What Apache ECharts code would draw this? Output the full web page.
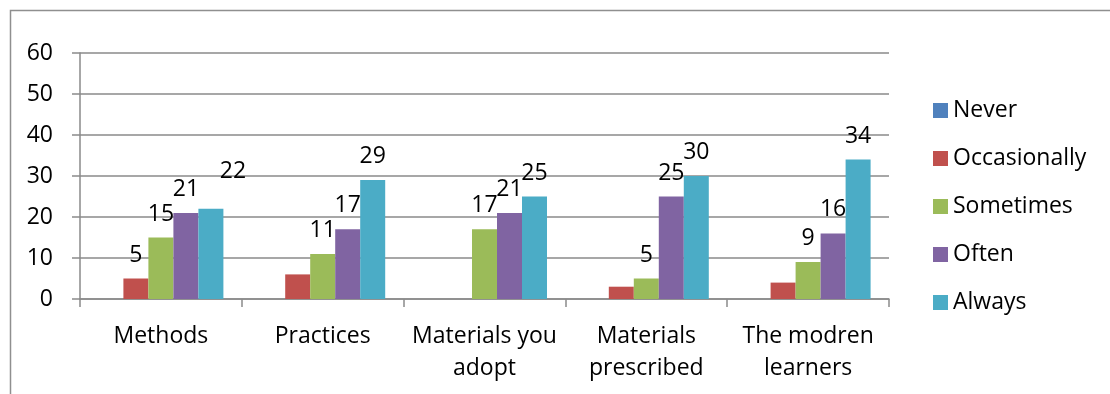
<!DOCTYPE html>
<html>
<head>
<meta charset="utf-8">
<script src="https://cdn.jsdelivr.net/npm/echarts@6/dist/echarts.min.js"></script>
<style>
  html, body { margin: 0; padding: 0; background: #fff; }
  #chart { width: 1110px; height: 394px; }
</style>
</head>
<body>
<div id="chart"></div>
<script>
// Survey responses per teaching aspect
const categories = ['Methods', 'Practices', 'Materials you\nadopt', 'Materials\nprescribed', 'The modren\nlearners'];
const seriesNames = ['Never', 'Occasionally', 'Sometimes', 'Often', 'Always'];
const never        = [0, 0, 0, 0, 0];
const occasionally = [5, 6, 0, 3, 4];
const sometimes    = [15, 11, 17, 5, 9];
const often        = [21, 17, 21, 25, 16];
const always       = [22, 29, 25, 30, 34];
// which values carry a printed label
const labelledNever        = [false, false, false, false, false];
const labelledOccasionally = [true, false, false, false, false];
const labelledSometimes    = [true, true, true, true, true];
const labelledOften        = [true, true, true, true, true];
const labelledAlways       = [true, true, true, true, true];
const yTicks = [0, 10, 20, 30, 40, 50, 60];

const colors = ['#4F81BD', '#C0504D', '#9BBB59', '#8064A2', '#4BACC6'];
const FONT = '"Open Sans", "Noto Sans", "Liberation Sans", sans-serif';
const FS = 23;
const GRAY = '#8a8a8a';

const values = [never, occasionally, sometimes, often, always];
const labelled = [labelledNever, labelledOccasionally, labelledSometimes, labelledOften, labelledAlways];

function makeSeries(idx) {
  return {
    name: seriesNames[idx],
    type: 'bar',
    barWidth: 25,
    barGap: '0%',
    itemStyle: { color: colors[idx] },
    label: {
      show: true,
      position: 'top',
      distance: 12,
      color: '#000',
      fontFamily: FONT,
      fontSize: FS
    },
    data: values[idx].map((v, i) => {
      const item = { value: v };
      if (!labelled[idx][i]) item.label = { show: false };
      // the Methods "Always" label sits up and to the right of its bar
      if (idx === 4 && i === 0) item.label = { offset: [22, -14] };
      return item;
    })
  };
}

const chart = echarts.init(document.getElementById('chart'));
chart.setOption({
  animation: false,
  backgroundColor: '#fff',
  textStyle: { fontFamily: FONT },
  graphic: [{
    type: 'rect',
    shape: { x: 10.5, y: 10.5, width: 1200, height: 500 },
    style: { fill: 'none', stroke: '#8f8f8f', lineWidth: 1.5 },
    silent: true
  }],
  grid: { left: 80, right: 221, top: 53, bottom: 95 },
  legend: {
    orient: 'vertical',
    left: 933,
    top: 99,
    padding: 0,
    itemWidth: 15,
    itemHeight: 15,
    itemGap: 25,
    icon: 'rect',
    textStyle: { fontFamily: FONT, fontSize: FS, color: '#000', lineHeight: 20 },
    data: seriesNames
  },
  xAxis: {
    type: 'category',
    data: categories,
    axisLine: { lineStyle: { color: GRAY, width: 1.5 } },
    axisTick: { show: true, length: 8, lineStyle: { color: GRAY, width: 1.5 } },
    axisLabel: {
      interval: 0,
      margin: 21,
      color: '#000',
      fontFamily: FONT,
      fontSize: FS,
      lineHeight: 32,
      verticalAlign: 'top'
    }
  },
  yAxis: {
    type: 'value',
    min: yTicks[0],
    max: yTicks[yTicks.length - 1],
    interval: 10,
    axisLine: { show: true, lineStyle: { color: GRAY, width: 1.5 } },
    axisTick: { show: true, length: 8, lineStyle: { color: GRAY, width: 1.5 } },
    splitLine: { show: true, lineStyle: { color: GRAY, width: 1.5 } },
    axisLabel: {
      margin: 27,
      color: '#000',
      fontFamily: FONT,
      fontSize: FS
    }
  },
  series: [0, 1, 2, 3, 4].map(makeSeries)
});
</script>
</body>
</html>
